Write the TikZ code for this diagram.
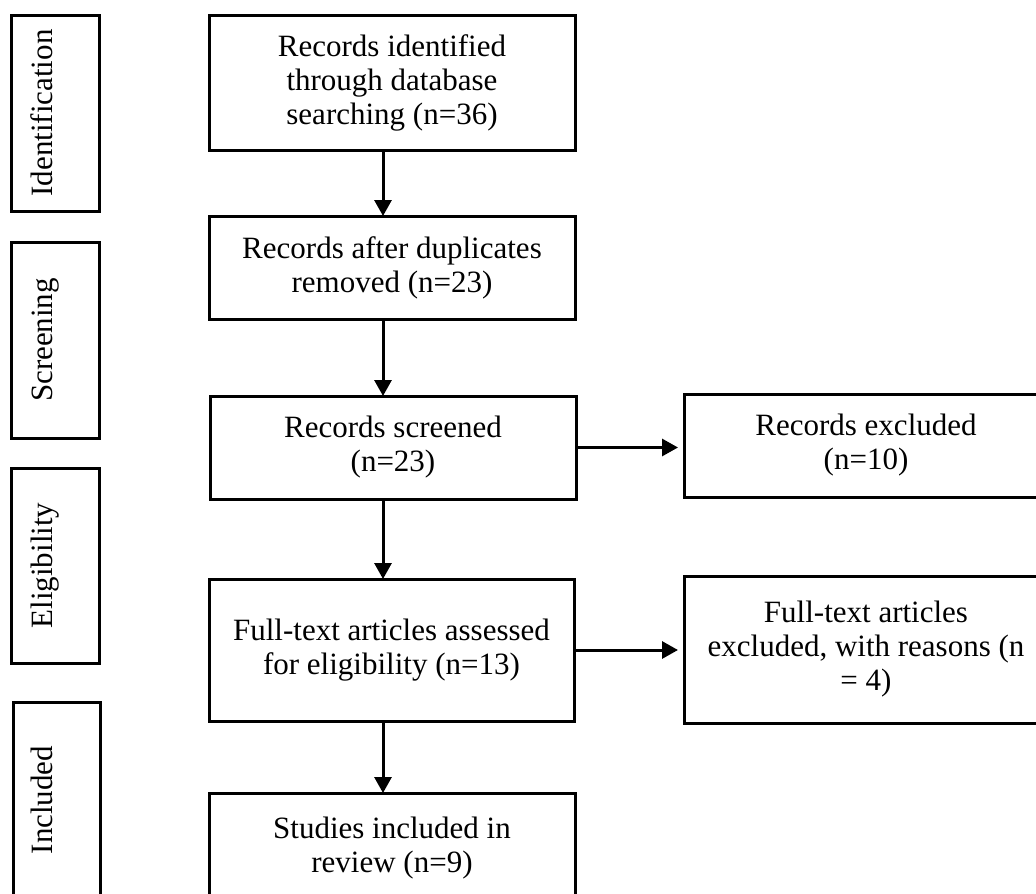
\documentclass[tikz,border=0pt]{standalone}
\usepackage{fontspec}
\setmainfont{Liberation Serif}
\usetikzlibrary{arrows.meta}
\begin{document}
\begin{tikzpicture}[x=1pt,y=-1pt,
  txt/.style={font=\fontsize{31}{34}\selectfont},
  box/.style={draw=black, line width=3pt, inner sep=0pt, outer sep=0pt, align=center, txt},
  lab/.style={rotate=90, anchor=base, inner sep=0pt, txt},
  arr/.style={line width=3pt, -{Triangle[length=16pt,width=17pt]}}
]
\useasboundingbox (0,0) rectangle (1036,894);
\clip (0,0) rectangle (1036,894);
\fill[white] (0,0) rectangle (1036,894);

% phase boxes
\node[box, minimum width=88pt, minimum height=196pt] (p1) at (55,113) {};
\node[box, minimum width=88pt, minimum height=196pt] (p2) at (55,340) {};
\node[box, minimum width=88pt, minimum height=195pt] (p3) at (55,565.5) {};
\node[box, minimum width=87pt, minimum height=196pt] (p4) at (56.5,800) {};
\node[lab] (t1) at (52,113) {Identification};
\node[lab] (t2) at (52,340) {Screening};
\node[lab] (t3) at (52,565.5) {Eligibility};
\node[lab] (t4) at (52,800) {Included};

% main column
\node[box, minimum width=366pt, minimum height=135pt] (b1) at (392,82.5)
  {Records identified\\through database\\searching (n=36)};
\node[box, minimum width=366pt, minimum height=103pt] (b2) at (392,267.5)
  {Records after duplicates\\removed (n=23)};
\node[box, minimum width=366pt, minimum height=103pt] (b3) at (393,447.5)
  {Records screened\\(n=23)};
\node[box, minimum width=365pt, minimum height=142pt] (b4) at (391.5,650)
  {Full-text articles assessed\\for eligibility (n=13)};
\node[box, minimum width=366pt, minimum height=110pt] (b5) at (392,848)
  {Studies included in\\review (n=9)};

% right column
\node[box, minimum width=364pt, minimum height=103pt] (e1) at (866,445.5)
  {Records excluded\\(n=10)};
\node[box, minimum width=364pt, minimum height=147pt] (e2) at (866,649.5)
  {Full-text articles\\excluded, with reasons (n\\= 4)};

% connectors
\draw[arr] ([xshift=-9pt]b1.south) -- ([xshift=-9pt]b2.north);
\draw[arr] ([xshift=-9pt]b2.south) -- ([xshift=-10pt]b3.north);
\draw[arr] ([xshift=-10pt]b3.south) -- ([xshift=-8.5pt]b4.north);
\draw[arr] ([xshift=-8.5pt]b4.south) -- ([xshift=-9pt]b5.north);
\draw[arr, shorten >=6pt] (b3.east) -- (b3.east -| e1.west);
\draw[arr, shorten >=6pt] (b4.east) -- (b4.east -| e2.west);
\end{tikzpicture}
\end{document}
